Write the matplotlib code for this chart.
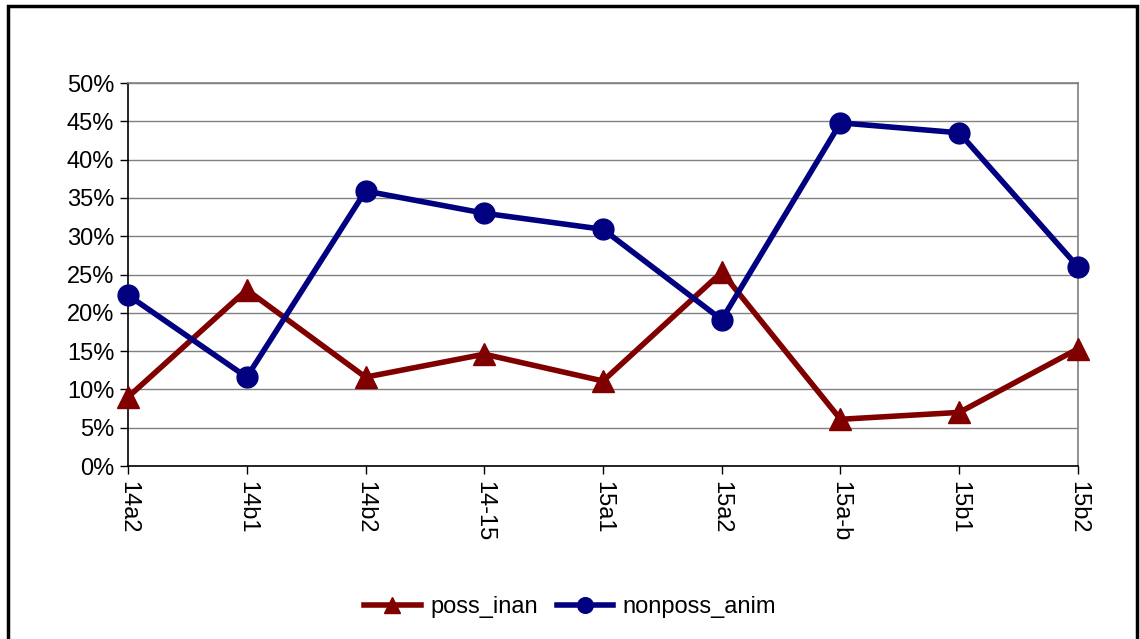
import matplotlib.pyplot as plt
from matplotlib.ticker import FuncFormatter, MultipleLocator
from matplotlib.patches import Rectangle

plt.rcParams['font.family'] = ['Liberation Sans', 'DejaVu Sans']

categories = ['14a2', '14b1', '14b2', '14-15', '15a1', '15a2', '15a-b', '15b1', '15b2']
poss_inan = [9.0, 23.0, 11.6, 14.6, 11.1, 25.3, 6.1, 7.0, 15.3]
nonposs_anim = [22.3, 11.6, 35.9, 33.0, 30.9, 19.1, 44.8, 43.5, 26.0]

fig = plt.figure(figsize=(11.4, 6.39), dpi=100)
ax = fig.add_axes([0.1123, 0.2707, 0.8333, 0.5994])

# outer chart frame
fig.patches.append(Rectangle((0.007, -0.05), 0.99, 1.04, transform=fig.transFigure,
                             fill=False, edgecolor='black', linewidth=2.5))

x = range(len(categories))
ax.plot(x, poss_inan, color='#800000', linewidth=4, marker='^', markersize=16,
        label='poss_inan', zorder=3, clip_on=False)
ax.plot(x, nonposs_anim, color='#000080', linewidth=4, marker='o', markersize=15,
        label='nonposs_anim', zorder=3, clip_on=False)

ax.set_xlim(0, len(categories) - 1)
ax.set_ylim(0, 50)
ax.yaxis.set_major_locator(MultipleLocator(5))
ax.yaxis.set_major_formatter(FuncFormatter(lambda v, p: f'{v:.0f}%'))
ax.yaxis.grid(True, color='#808080', linewidth=1)
ax.set_axisbelow(True)

ax.set_xticks(list(x))
ax.set_xticklabels(categories, rotation=-90, ha='center', va='top')
ax.tick_params(axis='both', labelsize=17, length=6, width=1, color='black', direction='out')
ax.tick_params(axis='x', pad=5)
ax.tick_params(axis='y', pad=4)

for side in ['left', 'bottom']:
    ax.spines[side].set_color('black')
    ax.spines[side].set_linewidth(1.2)
for side in ['top', 'right']:
    ax.spines[side].set_color('#808080')
    ax.spines[side].set_linewidth(1.2)

fig.legend(loc='center', bbox_to_anchor=(0.5, 0.05), ncol=2, frameon=False,
           fontsize=17, handlelength=2.4, columnspacing=0.8, handletextpad=0.4,
           markerscale=0.75)

fig.savefig('out.png', dpi=100)
